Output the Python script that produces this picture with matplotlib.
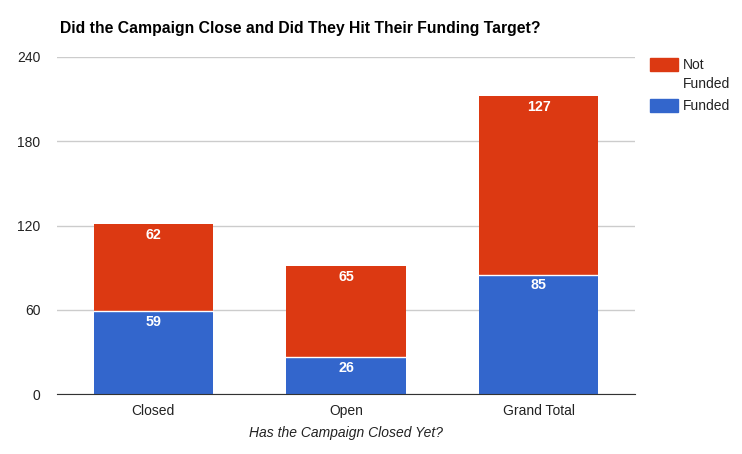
import matplotlib
matplotlib.use("Agg")
import matplotlib.pyplot as plt
from matplotlib.patches import Rectangle

categories = ["Closed", "Open", "Grand Total"]
funded = [59, 26, 85]
not_funded = [62, 65, 127]
yticks = [0, 60, 120, 180, 240]

RED = "#DC3912"
BLUE = "#3366CC"
FONT = ["Liberation Sans", "DejaVu Sans"]
plt.rcParams["font.family"] = FONT

W, H = 742, 454
fig = plt.figure(figsize=(W / 100, H / 100), dpi=100)
ax = fig.add_axes([57 / W, (H - 394) / H, (635 - 57) / W, (394 - 57) / H])

x = list(range(len(categories)))
bw = 0.62
ax.bar(x, funded, width=bw, color=BLUE, zorder=3)
ax.bar(x, not_funded, width=bw, bottom=funded, color=RED, zorder=3)
for xi, f in zip(x, funded):
    ax.plot([xi - bw / 2, xi + bw / 2], [f, f], color="white", lw=1, zorder=4)

for xi, f, n in zip(x, funded, not_funded):
    ax.annotate(str(f), (xi, f), xytext=(0, -7.5), textcoords="offset points",
                ha="center", va="center", color="white", fontsize=10.3, fontweight="bold", zorder=5)
    ax.annotate(str(n), (xi, f + n), xytext=(0, -7.5), textcoords="offset points",
                ha="center", va="center", color="white", fontsize=10.3, fontweight="bold", zorder=5)

ax.set_xlim(-0.5, 2.5)
ax.set_ylim(0, 240)
ax.set_yticks(yticks)
ax.set_yticklabels([str(v) for v in yticks])
ax.set_xticks(x)
ax.set_xticklabels(categories)
ax.grid(axis="y", color="#cccccc", lw=1, zorder=0)
for s in ["top", "right", "left"]:
    ax.spines[s].set_visible(False)
ax.spines["bottom"].set_color("#333333")
ax.spines["bottom"].set_zorder(6)
ax.tick_params(axis="both", length=0, labelsize=10, colors="#222222")
ax.tick_params(axis="y", pad=12)
ax.tick_params(axis="x", pad=7)
ax.set_xlabel("Has the Campaign Closed Yet?", fontsize=10, style="italic", color="#222222", labelpad=6)

fig.text(60 / W, 1 - 28 / H, "Did the Campaign Close and Did They Hit Their Funding Target?",
         fontsize=11.3, fontweight="bold", color="#000000", ha="left", va="center")

# legend
fig.patches.append(Rectangle((650 / W, 1 - 71 / H), 28 / W, 13 / H, transform=fig.transFigure,
                             color=RED, figure=fig))
fig.text(683 / W, 1 - 65 / H, "Not", fontsize=10, color="#222222", va="center", ha="left")
fig.text(683 / W, 1 - 84 / H, "Funded", fontsize=10, color="#222222", va="center", ha="left")
fig.patches.append(Rectangle((650 / W, 1 - 112 / H), 28 / W, 13 / H, transform=fig.transFigure,
                             color=BLUE, figure=fig))
fig.text(683 / W, 1 - 106 / H, "Funded", fontsize=10, color="#222222", va="center", ha="left")

fig.savefig("out.png", dpi=100)
